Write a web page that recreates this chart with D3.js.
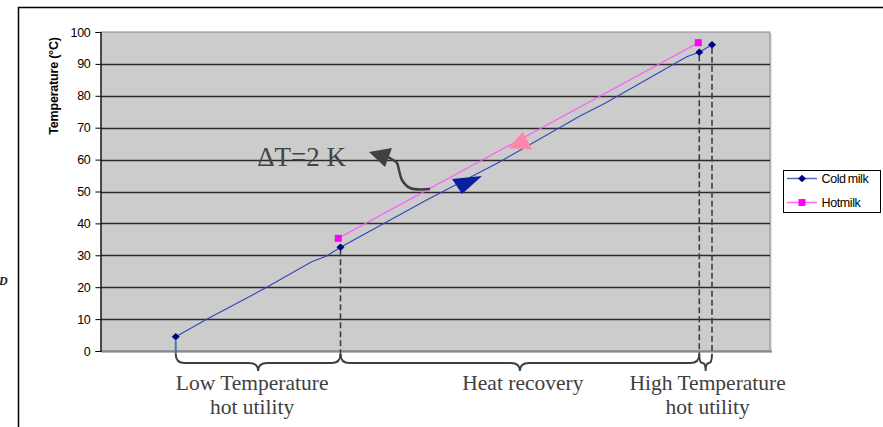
<!DOCTYPE html>
<html>
<head>
<meta charset="utf-8">
<script src="https://cdn.jsdelivr.net/npm/d3@7"></script>
<style>
  body { margin: 0; background: #fff; }
  svg { display: block; }
</style>
</head>
<body>
<div id="chart"></div>
<script>
'use strict';

// heat load (arbitrary units, no x axis shown) and temperatures in °C
var coldX = [11.17, 15.8, 24.77, 31.49, 33.74, 35.8, 48.68, 59.64, 71.6, 75.34, 87.55, 89.43, 91.33];
var coldT = [4.48, 9.94, 19.97, 27.99, 29.78, 32.51, 47.34, 59.34, 73.67, 77.65, 92.26, 93.64, 96.02];
var coldMarkers = [0, 5, 11, 12];
var hotX = [35.47, 89.28];
var hotT = [35.33, 96.65];
var yTicks = [0, 10, 20, 30, 40, 50, 60, 70, 80, 90, 100];
var seriesNames = ['Cold milk', 'Hotmilk'];

// zones below the axis: [from cold index, to cold index, label lines]
var zones = [
    [0, 5, ['Low Temperature', 'hot utility']],
    [5, 11, ['Heat recovery']],
    [11, 12, ['High Temperature', 'hot utility']]
];
var zoneLabelShift = [-6, 3, 2];
var dashedAt = [5, 11, 12];

// annotation shapes in data units
var deltaLabel = { x: 23.35, t: 58.1, text: '\u0394T=2 K' };
var curveX = [49.18, 46.19, 44.99, 44.54, 44.25, 43.65, 42.9];
var curveT = [50.78, 51.1, 53.61, 56.74, 58.93, 59.87, 60.82];
var greyHeadX = [40.06, 43.5, 42.45];
var greyHeadT = [62.38, 63.64, 57.68];
var blueHeadX = [52.47, 56.95, 53.96];
var blueHeadT = [53.92, 54.86, 49.22];
var pinkHeadX = [63.03, 60.88, 64.47];
var pinkHeadT = [68.75, 63.54, 63.23];

var width = 883, height = 427;
var svg = d3.select('#chart').append('svg')
    .attr('width', width)
    .attr('height', height);

var x = d3.scaleLinear().domain([0, 100]).range([101, 770]);
var y = d3.scaleLinear().domain([0, 100]).range([351, 32]);

// outer frame
svg.append('path')
    .attr('d', 'M18.5,' + height + ' L18.5,7.5 L' + width + ',7.5')
    .attr('fill', 'none')
    .attr('stroke', '#000')
    .attr('stroke-width', 1.5);

// stray glyph cut by the left edge
svg.append('text')
    .attr('x', -1).attr('y', 285)
    .attr('font-family', 'Liberation Serif')
    .attr('font-style', 'italic')
    .attr('font-weight', 'bold')
    .attr('font-size', 12)
    .attr('fill', '#222')
    .text('D');

// plot area
svg.append('rect')
    .attr('x', x(0) + 2).attr('y', y(100) + 2)
    .attr('width', x(100) - x(0)).attr('height', y(0) - y(100))
    .attr('fill', '#e4e4e4');
svg.append('rect')
    .attr('x', x(0)).attr('y', y(100))
    .attr('width', x(100) - x(0)).attr('height', y(0) - y(100))
    .attr('fill', '#cccccc')
    .attr('stroke', '#8a8a8a')
    .attr('stroke-width', 1);

// grid
svg.append('g')
    .selectAll('line')
    .data(yTicks.filter(function (d) { return d > 0 && d < 100; }))
    .enter().append('line')
    .attr('x1', x(0)).attr('x2', x(100))
    .attr('y1', function (d) { return Math.round(y(d)) + 0.5; })
    .attr('y2', function (d) { return Math.round(y(d)) + 0.5; })
    .attr('stroke', '#2a2a2a')
    .attr('stroke-width', 1.3);

svg.append('line')
    .attr('x1', x(0)).attr('x2', x(100) + 2)
    .attr('y1', y(0) + 0.5).attr('y2', y(0) + 0.5)
    .attr('stroke', '#8a8a8a').attr('stroke-width', 2);

// y axis
var yAxis = d3.axisLeft(y).tickValues(yTicks).tickSize(5).tickPadding(5);
var gy = svg.append('g')
    .attr('transform', 'translate(' + (x(0) - 0.5) + ',0)')
    .call(yAxis);
gy.select('.domain').attr('stroke', '#000').attr('stroke-width', 1.2);
gy.selectAll('.tick line').attr('stroke', '#000');
gy.selectAll('.tick text')
    .attr('font-family', 'Liberation Sans, Arial, sans-serif')
    .attr('font-size', 12.5)
    .attr('letter-spacing', -0.3)
    .attr('fill', '#000');

svg.append('text')
    .attr('transform', 'translate(58,86) rotate(-90)')
    .attr('text-anchor', 'middle')
    .attr('font-family', 'Liberation Sans, Arial, sans-serif')
    .attr('font-weight', 'bold')
    .attr('font-size', 12.5)
    .attr('letter-spacing', -0.2)
    .text('Temperature (\u00B0C)');

// dashed drop lines
svg.append('g')
    .selectAll('line')
    .data(dashedAt)
    .enter().append('line')
    .attr('x1', function (i) { return x(coldX[i]); })
    .attr('x2', function (i) { return x(coldX[i]); })
    .attr('y1', function (i) { return y(coldT[i]) + 3; })
    .attr('y2', y(0) + 3)
    .attr('stroke', '#404040')
    .attr('stroke-width', 1.6)
    .attr('stroke-dasharray', '6,3');

// short blue tick under the first cold point
svg.append('line')
    .attr('x1', x(coldX[0])).attr('x2', x(coldX[0]))
    .attr('y1', y(coldT[0]) + 4).attr('y2', y(0) + 3)
    .attr('stroke', '#3b78b4').attr('stroke-width', 2);

// braces
function brace(x1, x2, top) {
    var xm = (x1 + x2) / 2;
    var y1 = top + 9, y2 = top + 17;
    var r = Math.min(9, (x2 - x1) / 4);
    return 'M' + x1 + ',' + top +
        ' Q' + x1 + ',' + y1 + ' ' + (x1 + r) + ',' + y1 +
        ' L' + (xm - r) + ',' + y1 +
        ' Q' + xm + ',' + y1 + ' ' + xm + ',' + y2 +
        ' Q' + xm + ',' + y1 + ' ' + (xm + r) + ',' + y1 +
        ' L' + (x2 - r) + ',' + y1 +
        ' Q' + x2 + ',' + y1 + ' ' + x2 + ',' + top;
}

var zoneG = svg.append('g').selectAll('g')
    .data(zones)
    .enter().append('g');

zoneG.append('path')
    .attr('d', function (z) { return brace(x(coldX[z[0]]), x(coldX[z[1]]), y(0) + 3); })
    .attr('fill', 'none')
    .attr('stroke', '#404040')
    .attr('stroke-width', 2);

zoneG.each(function (z, k) {
    var cx = (x(coldX[z[0]]) + x(coldX[z[1]])) / 2 + zoneLabelShift[k];
    d3.select(this).selectAll('text')
        .data(z[2])
        .enter().append('text')
        .attr('x', cx)
        .attr('y', function (d, i) { return y(0) + 39 + i * 24; })
        .attr('text-anchor', 'middle')
        .attr('font-family', 'Liberation Serif, Times New Roman, serif')
        .attr('font-size', 21.5)
        .attr('fill', '#404040')
        .text(function (d) { return d; });
});

// series lines
var coldPts = coldX.map(function (d, i) { return [d, coldT[i]]; });
var hotPts = hotX.map(function (d, i) { return [d, hotT[i]]; });
var line = d3.line()
    .x(function (d) { return x(d[0]); })
    .y(function (d) { return y(d[1]); });

svg.append('path')
    .datum(hotPts)
    .attr('d', line)
    .attr('fill', 'none')
    .attr('stroke', '#ff55ff')
    .attr('stroke-width', 1.1);

svg.append('path')
    .datum(coldPts)
    .attr('d', line)
    .attr('fill', 'none')
    .attr('stroke', '#3344bb')
    .attr('stroke-width', 1.1);

var diamond = 'M0,-3.8 L4,0 L0,3.8 L-4,0 Z';
svg.append('g')
    .selectAll('path')
    .data(coldMarkers)
    .enter().append('path')
    .attr('transform', function (i) { return 'translate(' + x(coldX[i]) + ',' + y(coldT[i]) + ')'; })
    .attr('d', diamond)
    .attr('fill', '#000080');

svg.append('g')
    .selectAll('rect')
    .data(hotPts)
    .enter().append('rect')
    .attr('x', function (d) { return x(d[0]) - 3.5; })
    .attr('y', function (d) { return y(d[1]) - 3.5; })
    .attr('width', 7).attr('height', 7)
    .attr('fill', '#ff00ff');

// annotations
function tri(xs, ts) {
    return xs.map(function (d, i) { return x(d) + ',' + y(ts[i]); }).join(' ');
}

svg.append('text')
    .attr('x', x(deltaLabel.x))
    .attr('y', y(deltaLabel.t))
    .attr('font-family', 'Liberation Serif, Times New Roman, serif')
    .attr('font-size', 27)
    .attr('fill', '#444')
    .text(deltaLabel.text);

var curvePts = curveX.map(function (d, i) { return [d, curveT[i]]; });
svg.append('path')
    .datum(curvePts)
    .attr('d', d3.line().curve(d3.curveCatmullRom)
        .x(function (d) { return x(d[0]); })
        .y(function (d) { return y(d[1]); }))
    .attr('fill', 'none')
    .attr('stroke', '#404040')
    .attr('stroke-width', 2.5);

svg.append('polygon')
    .attr('points', tri(greyHeadX, greyHeadT))
    .attr('fill', '#404040');
svg.append('polygon')
    .attr('points', tri(blueHeadX, blueHeadT))
    .attr('fill', '#0a1fa0');
svg.append('polygon')
    .attr('points', tri(pinkHeadX, pinkHeadT))
    .attr('fill', '#ff88aa');

// legend
var legend = svg.append('g').attr('transform', 'translate(783,170)');
legend.append('rect')
    .attr('x', 0.5).attr('y', 0.5)
    .attr('width', 97).attr('height', 42)
    .attr('fill', '#fff')
    .attr('stroke', '#000');

var legItems = legend.selectAll('g.item')
    .data(seriesNames)
    .enter().append('g')
    .attr('class', 'item')
    .attr('transform', function (d, i) { return 'translate(0,' + (8.5 + i * 24) + ')'; });

legItems.append('line')
    .attr('x1', 4).attr('x2', 34)
    .attr('stroke', function (d, i) { return i === 0 ? '#5566bb' : '#ff66ff'; })
    .attr('stroke-width', 1.5);
legItems.filter(function (d, i) { return i === 0; })
    .append('path')
    .attr('transform', 'translate(19,0)')
    .attr('d', diamond)
    .attr('fill', '#000080');
legItems.filter(function (d, i) { return i === 1; })
    .append('rect')
    .attr('x', 15.5).attr('y', -3.5)
    .attr('width', 7).attr('height', 7)
    .attr('fill', '#ff00ff');
legItems.append('text')
    .attr('x', 38.5)
    .attr('y', 4.5)
    .attr('font-family', 'Liberation Sans, Arial, sans-serif')
    .attr('font-size', 12.5)
    .attr('letter-spacing', -0.4)
    .attr('word-spacing', -1)
    .text(function (d) { return d; });
</script>
</body>
</html>
